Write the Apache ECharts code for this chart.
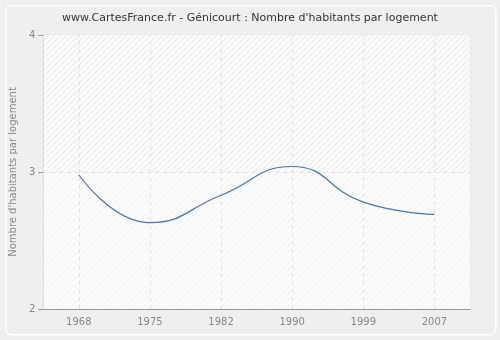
<!DOCTYPE html>
<html><head><meta charset="utf-8">
<script src="https://cdn.jsdelivr.net/npm/echarts@6/dist/echarts.min.js"></script>
<style>html,body{margin:0;padding:0;background:#efefef}#c{width:500px;height:340px}</style>
</head><body><div id="c"></div>
<script>
var years = ['1968','1975','1982','1990','1999','2007'];
var values = [2.98, 2.63, 2.83, 3.04, 2.78, 2.69];
var yTicks = [2, 3, 4];

function makeHatch(bg, line) {
  var c = document.createElement('canvas'); c.width = 6; c.height = 6;
  var g = c.getContext('2d');
  g.fillStyle = bg; g.fillRect(0,0,6,6);
  g.strokeStyle = line; g.lineWidth = 1;
  g.beginPath(); g.moveTo(0,6); g.lineTo(6,0); g.stroke();
  g.beginPath(); g.moveTo(-1,1); g.lineTo(1,-1); g.stroke();
  g.beginPath(); g.moveTo(5,7); g.lineTo(7,5); g.stroke();
  return {image: c, repeat: 'repeat'};
}

var chart = echarts.init(document.getElementById('c'), null, {renderer:'canvas'});
chart.setOption({
  backgroundColor: '#efefef',
  animation: false,
  graphic: [{
    type: 'rect', left: 5, top: 5, z: -10,
    shape: {width: 490, height: 329, r: 6},
    style: {fill: '#efefef', stroke: '#ffffff', lineWidth: 1.5}
  }],
  title: {
    text: "www.CartesFrance.fr - Génicourt : Nombre d'habitants par logement",
    left: 'center', top: 8,
    textStyle: {fontFamily: 'DejaVu Sans', fontSize: 11, fontWeight: 'normal', color: '#333'}
  },
  grid: {left: 40, right: 30, top: 35, bottom: 31, show: true, backgroundColor: '#fbfbfb', borderColor: '#e6e6e6', borderWidth: 1},
  xAxis: {
    type: 'category', data: years, boundaryGap: true,
    axisLine: {lineStyle: {color: '#999'}},
    axisTick: {alignWithLabel: true, length: 5, lineStyle: {color: '#999'}},
    axisLabel: {color: '#888', fontFamily: 'DejaVu Sans', fontSize: 10, margin: 8},
    splitLine: {show: false}
  },
  yAxis: {
    type: 'value', min: yTicks[0], max: yTicks[yTicks.length-1], interval: 1,
    name: "Nombre d'habitants par logement", nameLocation: 'middle', nameGap: 25,
    nameTextStyle: {color: '#888', fontFamily: 'DejaVu Sans', fontSize: 10},
    axisLine: {show: true, lineStyle: {color: '#999'}},
    axisTick: {show: true, length: 5, lineStyle: {color: '#999'}},
    axisLabel: {color: '#888', fontFamily: 'DejaVu Sans', fontSize: 10, margin: 8},
    splitLine: {show: false}
  },
  series: [{
    type: 'line', data: values, symbol: 'none', z: 1, silent: true,
    lineStyle: {opacity: 0},
    markArea: {
      silent: true,
      data: [
        [{yAxis: yTicks[1], itemStyle: {color: makeHatch('#fafafa', '#e9e9e9')}}, {yAxis: yTicks[2]}],
        [{yAxis: yTicks[0], itemStyle: {color: makeHatch('#fbfbfb', '#f2f2f2')}}, {yAxis: yTicks[1]}]
      ]
    },
    markLine: {
      silent: true, symbol: 'none', label: {show: false},
      lineStyle: {color: '#e0e0e0', type: [4, 4], width: 1},
      data: years.map(function(y){ return {xAxis: y}; }).concat([{yAxis: yTicks[1]}])
    }
  }, {
    type: 'line', data: values, smooth: true, symbol: 'none', z: 5,
    lineStyle: {color: '#4a76ad', width: 1.2}
  }]
});
</script></body></html>
